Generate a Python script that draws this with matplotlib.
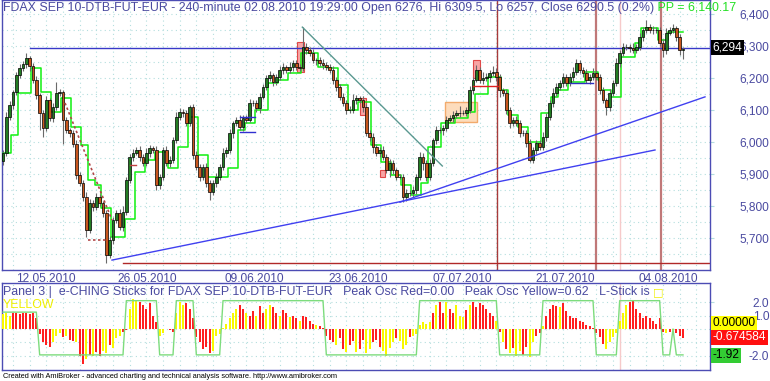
import numpy as np
import matplotlib
matplotlib.use("Agg")
import matplotlib.pyplot as plt
from matplotlib.patches import Rectangle
import matplotlib.transforms as mtransforms

plt.rcParams['font.family'] = ['Liberation Sans', 'DejaVu Sans']

# ---------------- data ----------------
first_open = 5940
close = [5966, 6078, 6116, 6156, 6209, 6231, 6244, 6262, 6237, 6194,
         6147, 6091, 6044, 6131, 6075, 6109, 6153, 6156, 6069, 6037,
         6028, 5994, 5897, 5872, 5828, 5725, 5809, 5797, 5828, 5809,
         5778, 5647, 5694, 5756, 5778, 5734, 5781, 5881, 5953, 5966,
         5975, 5953, 5934, 5966, 5981, 5975, 5866, 5891, 5975, 5934,
         5944, 6006, 6078, 6094, 6091, 6059, 6109, 5959, 5922, 5891,
         5922, 5872, 5844, 5872, 5891, 5922, 5966, 5975, 6028, 6059,
         6069, 6047, 6075, 6069, 6122, 6122, 6106, 6141, 6172, 6200,
         6209, 6187, 6203, 6225, 6234, 6225, 6234, 6247, 6234, 6231,
         6297, 6287, 6278, 6256, 6256, 6247, 6241, 6234, 6225, 6194,
         6172, 6141, 6122, 6100, 6100, 6131, 6137, 6131, 6109, 6028,
         6016, 5984, 5966, 5975, 5953, 5912, 5934, 5912, 5891, 5891,
         5828, 5841, 5841, 5850, 5891, 5953, 5934, 5891, 5934, 6006,
         6037, 6037, 6044, 6069, 6075, 6084, 6091, 6091, 6091, 6100,
         6162, 6194, 6225, 6194, 6200, 6203, 6216, 6219, 6203, 6162,
         6153, 6100, 6059, 6069, 6059, 6028, 6028, 5997, 5944, 5975,
         5997, 5984, 6016, 6078, 6122, 6153, 6172, 6184, 6203, 6184,
         6203, 6219, 6247, 6225, 6216, 6194, 6203, 6216, 6203, 6162,
         6131, 6109, 6153, 6184, 6247, 6278, 6297, 6297, 6294, 6287,
         6297, 6328, 6350, 6359, 6350, 6350, 6350, 6309, 6287, 6341,
         6350, 6356, 6328, 6287, 6290]
upper_wick = [10, 15, 12, 8, 10, 12, 10, 16, 8, 10, 12, 6, 10, 12, 8, 14, 35, 10, 8, 10,
              8, 10, 12, 10, 8, 15, 12, 10, 14, 10, 8, 10, 12, 10, 8, 14, 18, 10, 8, 12,
              10, 12, 8, 14, 10, 8, 12, 10, 8, 14, 12, 10, 16, 12, 10, 8, 7, 10, 12, 8,
              10, 12, 8, 10, 12, 8, 14, 10, 12, 8, 10, 14, 10, 8, 12, 10, 10, 12, 8, 10,
              12, 8, 10, 12, 14, 8, 16, 10, 8, 10, 62, 12, 10, 14, 8, 10, 12, 8, 10, 12,
              10, 8, 12, 10, 14, 20, 10, 8, 12, 10, 8, 12, 10, 8, 14, 10, 12, 10, 8, 10,
              10, 12, 8, 14, 10, 16, 12, 10, 12, 8, 14, 10, 8, 12, 10, 14, 8, 20, 10, 8,
              12, 10, 16, 10, 20, 14, 10, 18, 12, 10, 8, 12, 10, 8, 12, 10, 8, 10, 12, 10,
              8, 10, 14, 12, 10, 16, 12, 10, 14, 10, 12, 16, 12, 10, 8, 12, 10, 14, 10, 8,
              10, 8, 12, 10, 14, 8, 12, 10, 8, 14, 10, 12, 10, 22, 10, 12, 8, 10, 12, 14,
              10, 12, 8, 10, 8]
lower_wick = [12, 10, 8, 12, 10, 8, 10, 12, 14, 10, 12, 54, 29, 10, 8, 12, 10, 8, 76, 10,
              12, 10, 14, 10, 12, 22, 10, 12, 8, 10, 12, 25, 10, 12, 8, 10, 12, 8, 10, 12,
              8, 12, 10, 8, 14, 10, 16, 12, 10, 8, 12, 10, 8, 10, 14, 10, 8, 12, 10, 14,
              10, 12, 25, 10, 12, 10, 8, 12, 10, 14, 8, 10, 12, 10, 8, 10, 12, 14, 8, 10,
              10, 12, 8, 10, 12, 10, 8, 12, 10, 8, 10, 12, 8, 10, 14, 10, 12, 8, 10, 12,
              14, 10, 8, 12, 10, 8, 12, 10, 14, 10, 12, 18, 10, 12, 8, 10, 20, 12, 10, 8,
              16, 12, 10, 14, 12, 10, 20, 12, 10, 8, 12, 10, 14, 10, 8, 12, 10, 12, 8, 10,
              10, 12, 8, 10, 12, 8, 14, 10, 12, 20, 10, 12, 14, 10, 8, 12, 10, 14, 8, 10,
              12, 10, 8, 14, 10, 12, 8, 10, 12, 8, 10, 12, 10, 8, 14, 10, 12, 8, 10, 12,
              10, 25, 12, 10, 8, 12, 10, 8, 12, 10, 8, 10, 12, 8, 10, 14, 8, 10, 20, 12,
              8, 10, 12, 14, 28]

# green "PP" step line: values and how many bars each step lasts
pp_values = [5966, 6022, 6153, 6231, 6156, 6094, 6137, 6047, 5991, 5881,
             5866, 5794, 5703, 5760, 5906, 5944, 5969, 5919, 5984, 6078,
             5959, 5891, 5919, 6037, 6059, 6100, 6184, 6194, 6216, 6278,
             6234, 6231, 6178, 6100, 6125, 5991, 5938, 5897, 5866, 5834,
             5872, 5984, 6059, 6075, 6094, 6150, 6203, 6162, 6084, 6047,
             6000, 6091, 6141, 6162, 6187, 6219, 6194, 6163, 6141, 6266,
             6310, 6356, 6319, 6345]
pp_lengths = [3, 2, 4, 3, 3, 3, 3, 3, 2, 2,
              2, 3, 4, 3, 3, 3, 4, 3, 3, 3,
              3, 6, 3, 2, 3, 4, 3, 3, 4, 5,
              3, 3, 3, 3, 4, 3, 3, 3, 3, 3,
              2, 4, 4, 4, 2, 4, 4, 2, 3, 3,
              4, 3, 2, 3, 5, 4, 1, 3, 3, 4,
              2, 5, 3, 5]

# e-CHING sticks oscillator
osc = [1.1, 1.2, 1.0, 1.2, 1.2, 1.1, 1.2, 1.2, 1.1, 1.2,
       0.8, -0.4, -1.0, -1.2, -1.3, -1.0, -0.5, -0.3, -0.6, -0.5,
       -0.8, -0.9, -1.0, -2.0, -2.6, -2.2, -1.9, -2.0, -1.7, -2.0,
       -1.6, -1.8, -1.2, -1.4, -0.7, -0.5, -0.2, -0.1, 1.5, 2.2,
       2.1, 2.0, 1.8, 1.5, 1.9, 1.0, 0.5, -0.5, -0.3, 0.0,
       -0.1, -0.2, 1.2, 2.0, 1.8, 1.9, 1.5, 0.8, -0.6, -1.0,
       -1.5, -1.3, -1.8, -1.6, -0.5, -0.4, 0.1, 0.4, 0.8, 1.2,
       1.5, 1.8, 1.5, 1.2, 1.0, 1.3, 1.0, 1.7, 1.2, 1.5,
       1.8, 1.6, 1.2, 1.0, 1.4, 1.2, 0.9, 1.0, 0.8, 0.6,
       1.0, 0.9, 0.6, 0.4, 0.3, 0.2, 0.1, -0.5, -0.8, -1.0,
       -1.2, -0.7, -1.5, -1.7, -1.2, -0.9, -1.7, -1.5, -0.8, -1.8,
       -1.5, -1.0, -0.8, -1.3, -1.6, -2.0, -1.4, -1.0, -0.7, -0.9,
       -1.5, -1.2, -0.6, -0.5, -0.4, 0.3, 0.5, 0.4, 0.5, 1.2,
       1.8, 2.0, 1.2, 2.0, 1.5, 1.2, 1.8, 1.0, 0.9, 1.4,
       1.8, 2.0, 1.6, 1.9, 1.8, 1.5, 1.2, 1.0, 0.6, -0.2,
       -1.0, -1.5, -1.8, -1.4, -2.0, -1.6, -1.9, -1.3, -2.1, -1.0,
       -0.5, -0.3, 0.2, 1.0, 1.5, 1.8, 1.7, 1.6, 1.9, 1.3,
       1.0, 0.8, 0.8, 0.6, 0.5, 0.3, 0.2, 0.1, -0.3, -0.6,
       -1.1, -1.5, -1.0, -0.6, -0.3, 0.6, 1.2, 1.8, 2.0, 2.1,
       1.5, 1.2, 0.8, 1.0, 0.8, 0.6, 0.4, 0.8, -0.2, -0.3,
       -0.2, -0.1, -0.3, -0.5, -0.67]
osc_color = ("YYYRRRRRRRRRRRRYYYRYRRYRRYRYRRYYRYYYRRYYYRRRRRRYYRRRYYYRRRRRRRRYYYY"
             "YYYYRRYRRYRRYYRRYRRYRRYRRRRYRRRRRYRRYRRYRRYYRRRYYYYRYYYRYYYYYYRYRRY"
             "RRYYYRYRRRRRRRYRYRYRYYRRYYRRYRRRRYRRRRRRRRRRRRRYYYYYYYRRRRRRRRRRRYRYRRR")
env_values = [1.25, -1.92, 2.1, -1.92, 2.1, -1.92, 2.1, -1.92, 2.1, -1.92,
              2.1, -1.92, 2.1, -1.92, 0.0, -1.92]
env_lengths = [11, 26, 10, 5, 6, 8, 31, 28, 24, 13, 16, 7, 13, 3, 1, 3]

date_labels = ['12.05.2010', '26.05.2010', '09.06.2010', '23.06.2010',
               '07.07.2010', '21.07.2010', '04.08.2010']
date_pos = [12.9, 43.2, 75.3, 106.5, 137.7, 168.6, 199.5]
price_ticks = [5700, 5800, 5900, 6000, 6100, 6200, 6300, 6400]
osc_ticks = [2.0, 1.0, -2.0]

title_main = ("FDAX SEP 10-DTB-FUT-EUR - 240-minute 02.08.2010 19:29:00 Open 6276, "
              "Hi 6309.5, Lo 6257, Close 6290.5 (0.2%)")
title_pp = "PP = 6,140.17"
last_line = 6294

# ---------------- figure ----------------
W, H = 770, 381
fig = plt.figure(figsize=(W / 100, H / 100), dpi=100)
fig.patch.set_facecolor('white')


def rect(l, t, r, b):
    return [l / W, 1 - b / H, (r - l) / W, (b - t) / H]


ax = fig.add_axes(rect(2, 0, 710, 270))
ax2 = fig.add_axes(rect(2, 283, 710, 370))

BLUE_TXT = '#4a4aa0'
SPINE = '#4c4cb4'
GRID = '#b4dede'
FS = 8.6
FS_T = 8.9

n = len(close)
x = np.arange(n)
c = np.array(close, dtype=float)
o = np.concatenate([[first_open], c[:-1]])
hi = np.maximum(o, c) + np.array(upper_wick)
lo = np.minimum(o, c) - np.array(lower_wick)
up = c >= o

xmin, xmax = -0.3, 212.1
for a in (ax, ax2):
    a.set_xlim(xmin, xmax)
    a.set_facecolor('white')
    for s in a.spines.values():
        s.set_color(SPINE)
        s.set_linewidth(1.0)

ax.set_ylim(5600, 6443.75)
ax2.set_ylim(-3.04, 3.41)

# grids (dotted)
for yv in np.arange(5650, 6450, 50):
    ax.axhline(yv, color=GRID, lw=0.8, ls=(0, (1, 3)), zorder=0)
for xv in np.arange(3, 212, 5):
    ax.axvline(xv, color=GRID, lw=0.8, ls=(0, (1, 3)), zorder=0)
for yv in [2.0, 1.0, 0.0, -1.0, -2.0]:
    ax2.axhline(yv, color=GRID, lw=0.8, ls=(0, (1, 3)), zorder=0)
for xv in np.arange(3, 212, 5):
    ax2.axvline(xv, color=GRID, lw=0.8, ls=(0, (1, 3)), zorder=0)

# boxes
ax.add_patch(Rectangle((132.7, 6062), 9.6, 63, fc='#fddcbc', ec='#f2aa6c', lw=1, zorder=1))
for (bx, by, bw, bh) in [(88.2, 6219, 2.1, 93), (107.0, 6084, 2.0, 53),
                         (141.0, 6200, 2.0, 56), (113.0, 5891, 1.7, 21)]:
    ax.add_patch(Rectangle((bx, by), bw, bh, fc='#f8a4a4', ec='#e04848', lw=0.8, zorder=1))

# vertical markers
ax.axvline(148.3, color='#a83a3a', lw=1.0, zorder=1)
ax.axvline(178.0, color='#c07878', lw=1.6, zorder=1)
ax.axvline(197.5, color='#c07878', lw=1.6, zorder=1)
ax.axvline(185.0, color='#f6caca', lw=1.0, zorder=1)
ax2.axvline(185.0, color='#f6caca', lw=1.0, zorder=1)

# horizontal / trend lines
ax.plot([8.1, xmax], [last_line, last_line], color='#3838c8', lw=1.0, zorder=2)
ax.plot([36.0, xmax], [5622, 5622], color='#b02828', lw=1.0, zorder=2)
ax.plot([32.7, 195.6], [5631, 5975], color='#4040f0', lw=1.0, zorder=6)
ax.plot([119.1, 210.6], [5812, 6141], color='#4040f0', lw=1.0, zorder=6)
ax.plot([89.8, 131.8], [6359, 5925], color='#5a9890', lw=1.0, zorder=6)
ax.plot([18.6, 32.7], [6122, 5756], color='#b04848', lw=1.2, ls=(0, (1.5, 1.5)), zorder=6)
ax.plot([25.5, 31.2], [5694, 5694], color='#b04848', lw=1.2, ls=(0, (1.5, 1.5)), zorder=6)
ax.plot([141.0, 148.5], [6175, 6175], color='#e02020', lw=1.0, zorder=6)
ax.plot([170.0, 177.0], [6184, 6184], color='#3030c0', lw=1.0, zorder=6)
ax.plot([71.0, 75.6], [6078, 6078], color='#3030d0', lw=1.0, zorder=6)
ax.plot([71.0, 75.6], [6031, 6031], color='#3030d0', lw=1.0, zorder=6)
ax.plot([38.0, 40.0], [5928, 5928], color='#c04040', lw=1.0, zorder=6)

# green PP step line
pp = np.repeat(pp_values, pp_lengths)
ax.step(x, pp, where='mid', color='#10f010', lw=1.1, zorder=3)

# candles
ax.vlines(x, lo, hi, color='#6a6a6a', lw=0.8, zorder=4)
ax.bar(x[up], (c - o)[up], bottom=o[up], width=0.72, color='#237d23',
       edgecolor='black', linewidth=0.5, zorder=5)
ax.bar(x[~up], (c - o)[~up], bottom=o[~up], width=0.72, color='#c8561e',
       edgecolor='black', linewidth=0.5, zorder=5)

# axes ticks main
ax.yaxis.tick_right()
ax.set_yticks(price_ticks)
ax.set_yticklabels([f"{v:,}" for v in price_ticks])
ax.tick_params(axis='y', direction='out', length=3, color=GRID, pad=39.6,
               labelsize=FS, labelcolor=BLUE_TXT)
for t in ax.get_yticklabels():
    t.set_horizontalalignment('right')
    t.set_zorder(1)
ax.set_xticks(date_pos)
ax.set_xticklabels(date_labels)
ax.tick_params(axis='x', length=0, pad=2, labelsize=FS, labelcolor=BLUE_TXT)

# last price label (covers part of the 6,300 axis label, as in the original)
ax.text(1.004, last_line, "6,294", transform=mtransforms.blended_transform_factory(ax.transAxes, ax.transData),
        ha='left', va='center', fontsize=FS, color='white',
        bbox=dict(boxstyle='square,pad=0.12', fc='black', ec='none'), zorder=10, clip_on=False)

# titles
t1 = fig.text(3 / W, 1 - 1.5 / H, title_main, ha='left', va='top', fontsize=FS_T, color=BLUE_TXT)
fig.canvas.draw()
ax.annotate(" " + title_pp, xy=(1, 0), xycoords=t1, ha='left', va='bottom',
            fontsize=FS_T, color='#22e022', annotation_clip=False)

# oscillator panel
osc_arr = np.array(osc)
cols = ['#ff2020' if ch == 'R' else '#f8f800' for ch in osc_color[:n]]
ax2.bar(x, osc_arr, width=0.62, color=cols, linewidth=0, zorder=3)
env = np.repeat(env_values, env_lengths)
ax2.plot(x, env, color='#7ddc7d', lw=1.0, zorder=4)

ax2.yaxis.tick_right()
ax2.set_yticks(osc_ticks)
ax2.set_yticklabels([f"{v:.1f}" for v in osc_ticks])
ax2.tick_params(axis='y', direction='out', length=3, color=GRID, pad=39.6,
                labelsize=FS, labelcolor=BLUE_TXT)
for t in ax2.get_yticklabels():
    t.set_horizontalalignment('right')
ax2.set_xticks([])

bt = mtransforms.blended_transform_factory(ax2.transAxes, ax2.transData)
ax2.text(1.004, 0.44, "0.00000", transform=bt, ha='left', va='center', fontsize=FS,
         color='black', bbox=dict(boxstyle='square,pad=0.12', fc='#ffff00', ec='none'),
         zorder=10, clip_on=False)
ax2.text(1.004, -0.63, "-0.674584", transform=bt, ha='left', va='center', fontsize=FS,
         color='white', bbox=dict(boxstyle='square,pad=0.12', fc='#ff1010', ec='none'),
         zorder=10, clip_on=False)
ax2.text(1.004, -1.96, "-1.92", transform=bt, ha='left', va='center', fontsize=FS,
         color='black', bbox=dict(boxstyle='square,pad=0.12', fc='#33cc33', ec='none'),
         zorder=10, clip_on=False)

p1 = fig.text(3 / W, 1 - 286 / H,
              "Panel 3 |  e-CHING Sticks for FDAX SEP 10-DTB-FUT-EUR   Peak Osc Red=0.00   "
              "Peak Osc Yellow=0.62   L-Stick is ",
              ha='left', va='top', fontsize=FS_T, color=BLUE_TXT)
ax2.annotate("\u25a1", xy=(1, 0.1), xycoords=p1, ha='left', va='bottom', fontsize=8,
             color='#f0f000', annotation_clip=False, family='DejaVu Sans')
fig.text(3 / W, 1 - 299 / H, "YELLOW", ha='left', va='top', fontsize=FS_T, color='#f0f000')

fig.text(3 / W, 1 - 376 / H,
         "Created with AmiBroker - advanced charting and technical analysis software. http://www.amibroker.com",
         ha='left', va='center', fontsize=5.35, color='black')

fig.savefig("out.png", dpi=100, facecolor='white')
